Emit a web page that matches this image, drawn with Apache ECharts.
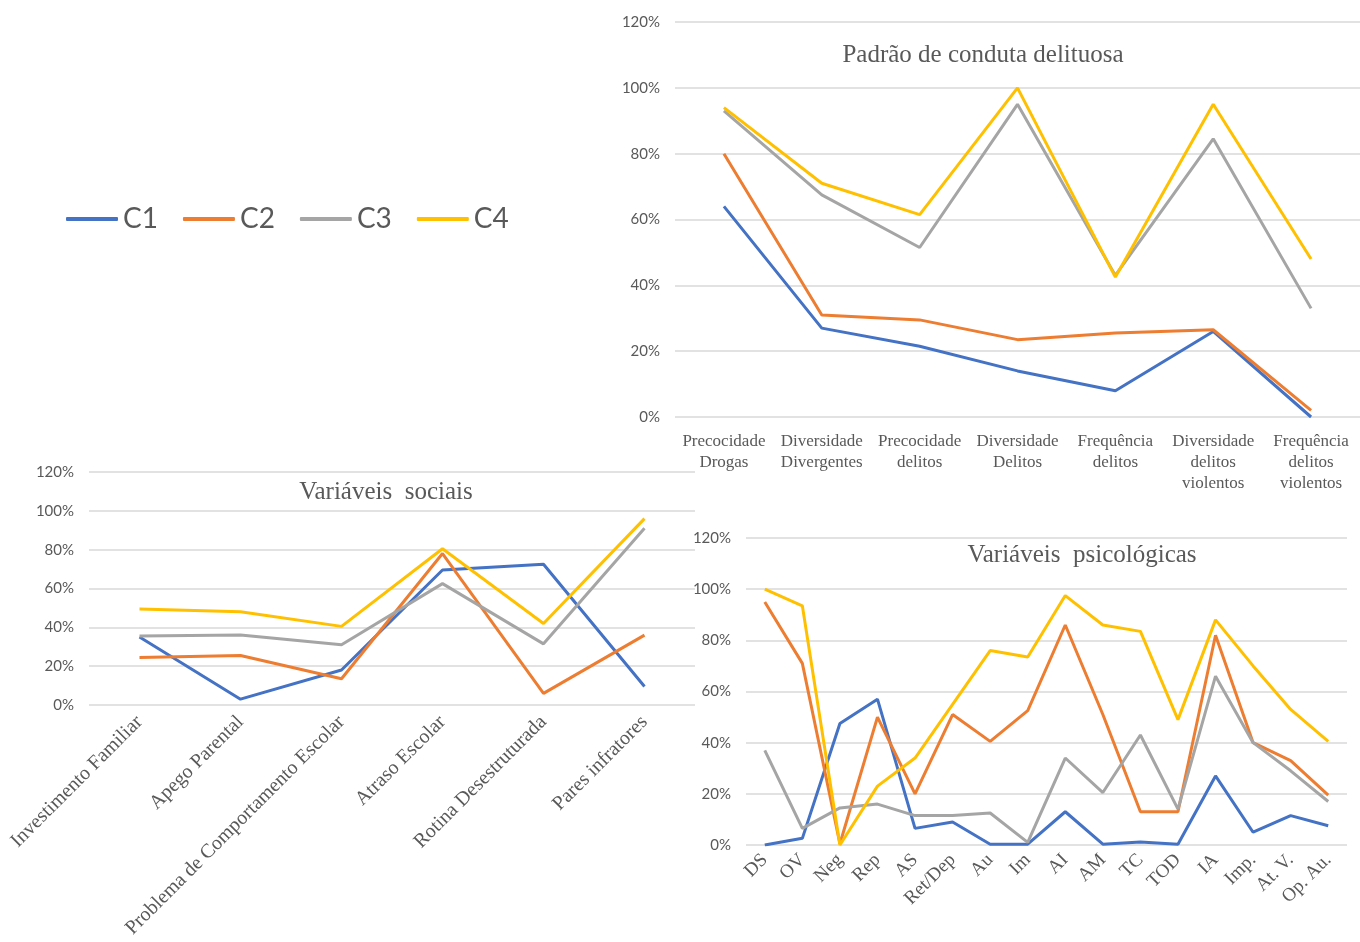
<!DOCTYPE html>
<html>
<head>
<meta charset="utf-8">
<script src="https://cdn.jsdelivr.net/npm/echarts@6/dist/echarts.min.js"></script>
<style>
  html, body { margin: 0; padding: 0; background: #ffffff; }
  #chart { width: 1360px; height: 942px; }
</style>
</head>
<body>
<div id="chart"></div>
<script>
// Cluster names
const clusters = ['C1', 'C2', 'C3', 'C4'];
const clusterColors = ['#4472C4', '#ED7D31', '#A5A5A5', '#FFC000'];

// Shared percentage axis ticks
const pctMin = 0;
const pctMax = 120;
const pctStep = 20;

// Padrão de conduta delituosa
const condutaCats = ['Precocidade\nDrogas', 'Diversidade\nDivergentes', 'Precocidade\ndelitos',
  'Diversidade\nDelitos', 'Frequência\ndelitos', 'Diversidade\ndelitos\nviolentos',
  'Frequência\ndelitos\nviolentos'];
const condutaC1 = [64, 27, 21.5, 14, 8, 26, 0];
const condutaC2 = [80, 31, 29.5, 23.5, 25.5, 26.5, 2];
const condutaC3 = [93, 67.5, 51.5, 95, 43, 84.5, 33];
const condutaC4 = [94, 71, 61.5, 100, 42.5, 95, 48];

// Variáveis sociais
const sociaisCats = ['Investimento Familiar', 'Apego Parental', 'Problema de Comportamento Escolar',
  'Atraso Escolar', 'Rotina Desestruturada', 'Pares infratores'];
const sociaisC1 = [35, 3, 18, 69.5, 72.5, 9.5];
const sociaisC2 = [24.5, 25.5, 13.5, 78, 6, 36];
const sociaisC3 = [35.5, 36, 31, 62.5, 31.5, 91];
const sociaisC4 = [49.5, 48, 40.5, 80.5, 42, 96];

// Variáveis psicológicas
const psicoCats = ['DS', 'OV', 'Neg', 'Rep', 'AS', 'Ret/Dep', 'Au', 'Im', 'AI', 'AM', 'TC', 'TOD',
  'IA', 'Imp.', 'At. V.', 'Op. Au.'];
const psicoC1 = [0, 2.6, 47.5, 57, 6.5, 9, 0.3, 0.3, 13, 0.3, 1.2, 0.3, 27, 5, 11.5, 7.5];
const psicoC2 = [95, 71, 0.5, 50, 20, 51, 40.5, 52.5, 86, 51, 13, 13, 82, 40, 33, 19.5];
const psicoC3 = [37, 6.5, 14.5, 16, 11.5, 11.5, 12.5, 1, 34, 20.5, 43, 14, 66, 40, 29, 17];
const psicoC4 = [100, 93.5, 0, 23, 34, 55, 76, 73.5, 97.5, 86, 83.5, 49, 88, 70, 53, 40.5];

const panels = [
  { title: 'Padrão de conduta delituosa', cats: condutaCats,
    series: [condutaC1, condutaC2, condutaC3, condutaC4],
    grid: { left: 675, top: 22, width: 686, height: 395 },
    titlePos: { x: 978, y: 38 },
    label: { rotate: 0, size: 17, lineHeight: 21, margin: 14 } },
  { title: 'Variáveis  sociais', cats: sociaisCats,
    series: [sociaisC1, sociaisC2, sociaisC3, sociaisC4],
    grid: { left: 89, top: 472, width: 606, height: 233 },
    titlePos: { x: 381, y: 475 },
    label: { rotate: 45, size: 20, lineHeight: 20, margin: 14 } },
  { title: 'Variáveis  psicológicas', cats: psicoCats,
    series: [psicoC1, psicoC2, psicoC3, psicoC4],
    grid: { left: 746, top: 538, width: 601, height: 307 },
    titlePos: { x: 1077, y: 538 },
    label: { rotate: 45, size: 19, lineHeight: 20, margin: 12 } }
];

const tickColor = '#595959';
const gridColor = '#D9D9D9';

const option = {
  backgroundColor: '#ffffff',
  animation: false,
  color: clusterColors,
  legend: {
    data: clusters,
    left: 61,
    top: 200,
    icon: 'roundRect',
    itemWidth: 52,
    itemHeight: 4,
    itemGap: 25,
    textStyle: { fontFamily: 'Lato', fontSize: 28, color: tickColor }
  },
  title: panels.map(p => ({
    text: p.title,
    left: p.titlePos.x,
    top: p.titlePos.y,
    textAlign: 'center',
    textStyle: { fontFamily: 'Liberation Serif', fontSize: 25, fontWeight: 'normal', color: tickColor }
  })),
  grid: panels.map(p => Object.assign({ containLabel: false }, p.grid)),
  xAxis: panels.map((p, i) => ({
    type: 'category',
    gridIndex: i,
    data: p.cats,
    boundaryGap: true,
    axisLine: { show: false },
    axisTick: { show: false },
    axisLabel: {
      interval: 0,
      rotate: p.label.rotate,
      margin: p.label.margin,
      fontFamily: 'Liberation Serif',
      fontSize: p.label.size,
      lineHeight: p.label.lineHeight,
      color: tickColor
    }
  })),
  yAxis: panels.map((p, i) => ({
    type: 'value',
    gridIndex: i,
    min: pctMin,
    max: pctMax,
    interval: pctStep,
    axisLine: { show: false },
    axisTick: { show: false },
    axisLabel: {
      formatter: '{value}%',
      fontFamily: 'Lato',
      fontSize: 15,
      color: tickColor,
      margin: 15
    },
    splitLine: { lineStyle: { color: gridColor, width: 1.5 } }
  })),
  series: []
};

panels.forEach((p, i) => {
  p.series.forEach((vals, k) => {
    option.series.push({
      name: clusters[k],
      type: 'line',
      xAxisIndex: i,
      yAxisIndex: i,
      data: vals,
      symbol: 'none',
      lineStyle: { width: 3, color: clusterColors[k] },
      itemStyle: { color: clusterColors[k] }
    });
  });
});

const chart = echarts.init(document.getElementById('chart'), null, { renderer: 'canvas' });
chart.setOption(option);
</script>
</body>
</html>
